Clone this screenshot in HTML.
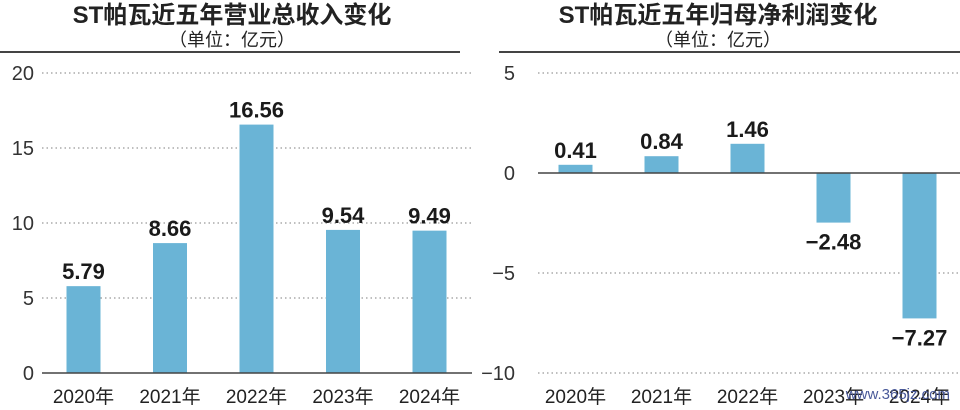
<!DOCTYPE html>
<html><head><meta charset="utf-8"><style>
body{margin:0;background:#fff;width:960px;height:405px;overflow:hidden;font-family:"Liberation Sans","Noto Sans CJK SC",sans-serif}
svg text{font-family:"Liberation Sans","Noto Sans CJK SC",sans-serif}
</style></head><body>
<svg id="c" width="960" height="405">
<text x="232" y="23" text-anchor="middle" font-size="24" font-weight="bold" fill="#222">ST帕瓦近五年营业总收入变化</text>
<text x="232" y="46" text-anchor="middle" font-size="18" fill="#222">（单位：亿元）</text>
<line x1="0" y1="52" x2="460" y2="52" stroke="#444" stroke-width="2"/>
<text x="718" y="23" text-anchor="middle" font-size="24" font-weight="bold" fill="#222">ST帕瓦近五年归母净利润变化</text>
<text x="718" y="46" text-anchor="middle" font-size="18" fill="#222">（单位：亿元）</text>
<line x1="499" y1="52" x2="960" y2="52" stroke="#444" stroke-width="2"/>
<g id="L"></g><g id="R"></g>
<text x="950" y="399" text-anchor="end" font-size="15" fill="#4a5a9a" font-family="Liberation Serif">www.365jz.com</text>
</svg>
<script>
const years=["2020年","2021年","2022年","2023年","2024年"];
const revenue=[5.79,8.66,16.56,9.54,9.49];
const revLabels=["5.79","8.66","16.56","9.54","9.49"];
const revTicks=[0,5,10,15,20];
const profit=[0.41,0.84,1.46,-2.48,-7.27];
const profitLabels=["0.41","0.84","1.46","−2.48","−7.27"];
const profitTicks=[-10,-5,0,5];
const profitTickLabels=["−10","−5","0","5"];
const NS="http://www.w3.org/2000/svg";
function mk(p,t,a,txt){const e=document.createElementNS(NS,t);for(const k in a)e.setAttribute(k,a[k]);if(txt!==undefined)e.textContent=txt;p.appendChild(e);return e;}
function chart(g,vals,labs,ticks,tickLabs,y0,scale,x0,x1,firstCenter,step,tickX){
  const y=v=>y0-v*scale;
  ticks.forEach((t,i)=>{
    if(t!==0){const l=mk(g,'line',{x1:x0,x2:x1,y1:y(t),y2:y(t),stroke:'#999','stroke-dasharray':'1.5 3','stroke-width':1.2});
    
    }
    const tx=mk(g,'text',{x:tickX,y:y(t)+7,'text-anchor':'end','font-size':20,fill:'#333'},tickLabs[i]);
    
    
  });
  vals.forEach((v,i)=>{
    const cx=firstCenter+i*step;
    const r=mk(g,'rect',{x:cx-17,y:Math.min(y(v),y0),width:34,height:Math.abs(v*scale),fill:'#6ab4d6'});
    
    
    const ly=v>=0?y(v)-7:y(v)+27;
    const t=mk(g,'text',{x:cx,y:ly,'text-anchor':'middle','font-size':22,'font-weight':'bold',fill:'#1a1a1a'},labs[i]);
    
    
  });
  const z=mk(g,'line',{x1:x0,x2:x1,y1:y0,y2:y0,stroke:'#444','stroke-width':1.5});
  
  
}
chart(document.getElementById('L'),revenue,revLabels,revTicks,revTicks.map(String),373,15,42,472,83.5,86.5,34);
chart(document.getElementById('R'),profit,profitLabels,profitTicks,profitTickLabels,173,20,538,960,575.5,86,515);
const gl=document.getElementById('L');
years.forEach((yr,i)=>{
  const t=mk(gl,'text',{x:83.5+i*86.5,y:403,'text-anchor':'middle','font-size':19,fill:'#222'},yr);
  
  
  const t2=mk(document.getElementById('R'),'text',{x:575.5+i*86,y:403,'text-anchor':'middle','font-size':19,fill:'#222'},yr);
  
  
});
</script>
</body></html>
